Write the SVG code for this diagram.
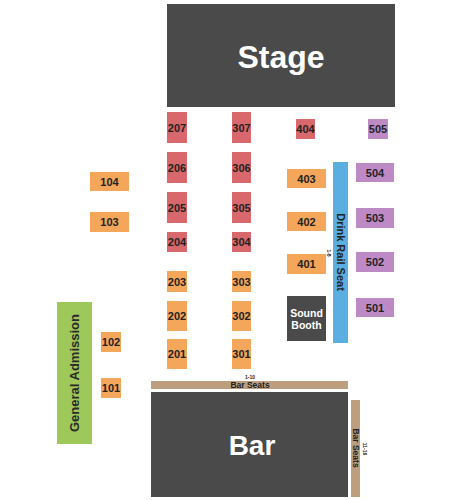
<svg xmlns="http://www.w3.org/2000/svg" width="450" height="500" viewBox="0 0 450 500">
<style>
text{font-family:"Liberation Sans",Arial,sans-serif;font-weight:bold;text-anchor:middle;dominant-baseline:central}
.lbl{font-size:11px;fill:#222}
.red{fill:#d8686c}
.org{fill:#f4a65a}
.pur{fill:#be8ac6}
.tan{fill:#bd9f7f}
.dark{fill:#4a4a4a}
.small{font-size:5px;fill:#222}
</style>
<rect width="450" height="500" fill="#fff"/>
<g id="stage"><rect class="dark" x="167" y="4" width="228" height="103"/><text x="281" y="57" font-size="32" fill="#fff">Stage</text></g>
<g id="s207"><rect class="red" x="167" y="112" width="20" height="31"/><text class="lbl" x="177" y="127.5">207</text></g>
<g id="s206"><rect class="red" x="167" y="152" width="20" height="31"/><text class="lbl" x="177" y="167.5">206</text></g>
<g id="s205"><rect class="red" x="167" y="192" width="20" height="31"/><text class="lbl" x="177" y="207.5">205</text></g>
<g id="s204"><rect class="red" x="167" y="232" width="20" height="20"/><text class="lbl" x="177" y="242">204</text></g>
<g id="s307"><rect class="red" x="232" y="112" width="19" height="31"/><text class="lbl" x="241.5" y="127.5">307</text></g>
<g id="s306"><rect class="red" x="232" y="152" width="19" height="31"/><text class="lbl" x="241.5" y="167.5">306</text></g>
<g id="s305"><rect class="red" x="232" y="192" width="19" height="31"/><text class="lbl" x="241.5" y="207.5">305</text></g>
<g id="s304"><rect class="red" x="232" y="232" width="19" height="20"/><text class="lbl" x="241.5" y="242">304</text></g>
<g id="s203"><rect class="org" x="167" y="271" width="20" height="21"/><text class="lbl" x="177" y="281.5">203</text></g>
<g id="s202"><rect class="org" x="167" y="301" width="20" height="30"/><text class="lbl" x="177" y="316">202</text></g>
<g id="s201"><rect class="org" x="167" y="339" width="20" height="30"/><text class="lbl" x="177" y="354">201</text></g>
<g id="s303"><rect class="org" x="232" y="271" width="19" height="21"/><text class="lbl" x="241.5" y="281.5">303</text></g>
<g id="s302"><rect class="org" x="232" y="301" width="19" height="30"/><text class="lbl" x="241.5" y="316">302</text></g>
<g id="s301"><rect class="org" x="232" y="339" width="19" height="30"/><text class="lbl" x="241.5" y="354">301</text></g>
<g id="s404"><rect class="red" x="296" y="119" width="19" height="20"/><text class="lbl" x="305.5" y="129">404</text></g>
<g id="s403"><rect class="org" x="287" y="169" width="39" height="19"/><text class="lbl" x="306.5" y="178.5">403</text></g>
<g id="s402"><rect class="org" x="287" y="212" width="39" height="19"/><text class="lbl" x="306.5" y="221.5">402</text></g>
<g id="s401"><rect class="org" x="287" y="254" width="39" height="20"/><text class="lbl" x="306.5" y="264">401</text></g>
<g id="sound"><rect class="dark" x="287" y="296" width="39" height="45"/><text x="306.5" y="313" font-size="10.5" fill="#fff">Sound</text><text x="306.5" y="324.5" font-size="10.5" fill="#fff">Booth</text></g>
<g id="drinkrail"><rect fill="#5aaee0" x="333" y="162" width="15" height="181"/><text class="lbl" transform="translate(341 252) rotate(90)">Drink Rail Seat</text><text class="small" transform="translate(329 253) rotate(90)">1-8</text></g>
<g id="s505"><rect class="pur" x="368" y="119" width="20" height="20"/><text class="lbl" x="378" y="129">505</text></g>
<g id="s504"><rect class="pur" x="356" y="163" width="38" height="19"/><text class="lbl" x="375" y="172.5">504</text></g>
<g id="s503"><rect class="pur" x="356" y="208" width="38" height="20"/><text class="lbl" x="375" y="218">503</text></g>
<g id="s502"><rect class="pur" x="356" y="252" width="38" height="20"/><text class="lbl" x="375" y="262">502</text></g>
<g id="s501"><rect class="pur" x="356" y="298" width="38" height="19"/><text class="lbl" x="375" y="307.5">501</text></g>
<g id="s104"><rect class="org" x="90" y="172" width="39" height="19"/><text class="lbl" x="109.5" y="181.5">104</text></g>
<g id="s103"><rect class="org" x="90" y="212" width="39" height="20"/><text class="lbl" x="109.5" y="222">103</text></g>
<g id="s102"><rect class="org" x="101" y="332" width="20" height="20"/><text class="lbl" x="111" y="342">102</text></g>
<g id="s101"><rect class="org" x="101" y="378" width="20" height="20"/><text class="lbl" x="111" y="388">101</text></g>
<g id="ga"><rect fill="#9fc85a" x="57" y="302" width="35" height="142"/><text transform="translate(74.5 373) rotate(-90)" font-size="13" fill="#2a2a2a">General Admission</text></g>
<g id="barseats1"><rect class="tan" x="151" y="381" width="197" height="8"/><text x="250" y="385" font-size="8.5" fill="#222">Bar Seats</text><text class="small" x="250" y="377">1-10</text></g>
<g id="bar"><rect class="dark" x="151" y="392" width="197" height="105"/><text x="252" y="445" font-size="28" fill="#fff">Bar</text></g>
<g id="barseats2"><rect class="tan" x="351" y="400" width="9" height="97"/><text transform="translate(355.5 448) rotate(90)" font-size="8.5" fill="#222">Bar Seats</text><text class="small" transform="translate(364.5 449) rotate(90)">11-16</text></g>
<g id="connectors"></g>
</svg>
